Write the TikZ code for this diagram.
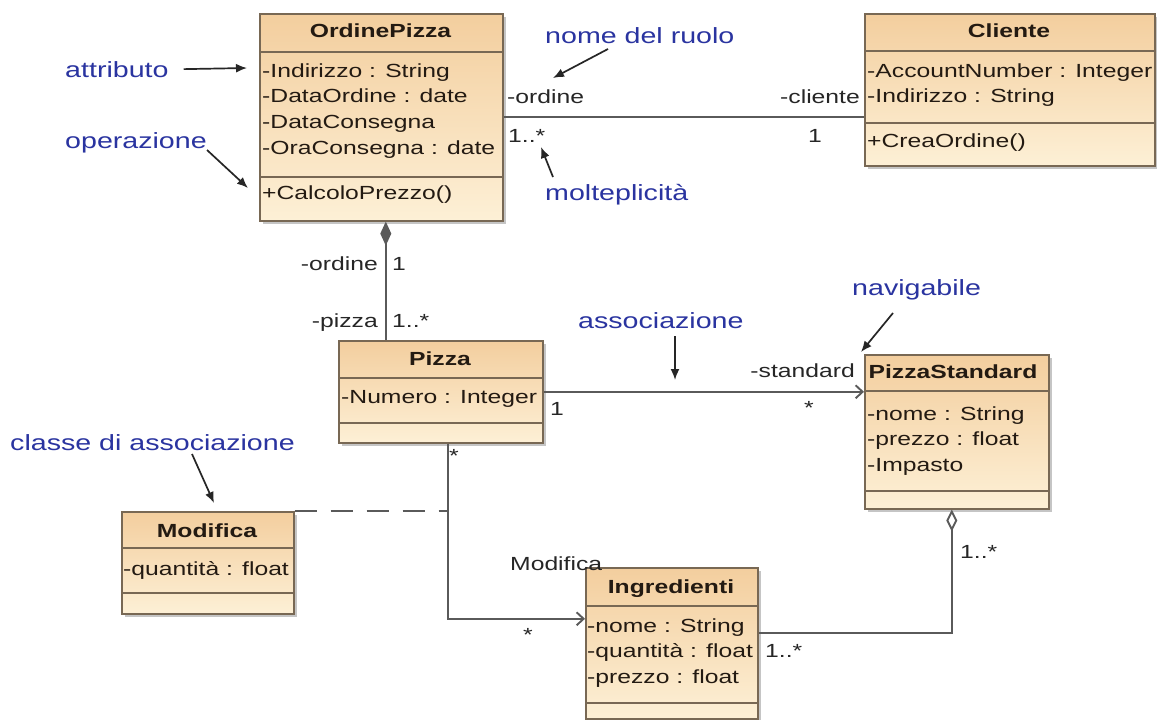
\documentclass[tikz,border=0pt]{standalone}
\usepackage{fontspec}
\setmainfont{Liberation Sans}[FakeStretch=1.3]
\usetikzlibrary{arrows.meta,shadows}
\definecolor{annblue}{RGB}{42,52,160}
\definecolor{clsborder}{RGB}{120,104,84}
\definecolor{clstop}{RGB}{243,206,158}
\definecolor{clsbot}{RGB}{253,240,214}
\definecolor{clstext}{RGB}{35,26,18}
\definecolor{linegray}{RGB}{90,90,90}
% one text line per row of a class compartment
\newcommand{\cellrows}[4]{%
  \foreach \rowtext [count=\k] in {#4} {\node[attr] (#1\k) at (#2,{#3+25.7*(\k-1)}) {\rowtext};}}
\begin{document}
\begin{tikzpicture}[x=1pt,y=-1pt,
  cls/.style={draw=clsborder, line width=1.6pt, top color=clstop, bottom color=clsbot,
    anchor=north west, inner sep=0pt,
    drop shadow={shadow xshift=3pt, shadow yshift=-3pt, fill=black!45, opacity=0.5}},
  sep/.style={draw=clsborder, line width=1.4pt},
  attr/.style={anchor=base west, inner sep=0pt, text=clstext, font=\fontsize{19}{19}\selectfont},
  head/.style={anchor=base, inner sep=0pt, text=clstext, font=\fontsize{19}{19}\selectfont\bfseries},
  lbl/.style={anchor=base west, inner sep=0pt, text=black!85, font=\fontsize{19}{19}\selectfont},
  ann/.style={anchor=base west, inner sep=0pt, text=annblue, font=\fontsize{22}{22}\selectfont},
  annarrow/.style={draw=black!85, line width=1.7pt, -{Latex[length=11pt,width=9pt]}},
  conn/.style={draw=linegray, line width=1.9pt},
  nav/.style={conn, -{Straight Barb[length=7pt,width=13pt]}},
  compo/.style={conn, {Diamond[length=24pt,width=11pt]}-},
  aggr/.style={conn, {Diamond[open,length=22pt,width=11pt,fill=white]}-},
  assocdash/.style={conn, dash pattern=on 22pt off 14pt}
]
\useasboundingbox (0,0) rectangle (1157,720);
\fill[white] (0,0) rectangle (1157,720);

% ---------- classes ----------
\node[cls, minimum width=243pt, minimum height=207pt] (op) at (259,13) {};
\draw[sep] ([yshift=-39pt]op.north west) -- ([yshift=-39pt]op.north east);
\draw[sep] ([yshift=-164pt]op.north west) -- ([yshift=-164pt]op.north east);
\node[head] (opH) at (380.5,37) {OrdinePizza};
\cellrows{opa}{262}{77}{-Indirizzo : String,-DataOrdine : date,-DataConsegna,-OraConsegna : date}
\cellrows{opo}{262}{199}{+CalcoloPrezzo()}

\node[cls, minimum width=290pt, minimum height=152pt] (cl) at (864,13) {};
\draw[sep] ([yshift=-38pt]cl.north west) -- ([yshift=-38pt]cl.north east);
\draw[sep] ([yshift=-110pt]cl.north west) -- ([yshift=-110pt]cl.north east);
\node[head] (clH) at (1009,37) {Cliente};
\cellrows{cla}{867}{77}{-AccountNumber : Integer,-Indirizzo : String}
\cellrows{clo}{867}{147}{+CreaOrdine()}

\node[cls, minimum width=204pt, minimum height=102pt] (pz) at (338,340) {};
\draw[sep] ([yshift=-38pt]pz.north west) -- ([yshift=-38pt]pz.north east);
\draw[sep] ([yshift=-83pt]pz.north west) -- ([yshift=-83pt]pz.north east);
\node[head] (pzH) at (440,365) {Pizza};
\cellrows{pza}{341}{403}{-Numero : Integer}

\node[cls, minimum width=184pt, minimum height=154pt] (ps) at (864,354) {};
\draw[sep] ([yshift=-37pt]ps.north west) -- ([yshift=-37pt]ps.north east);
\draw[sep] ([yshift=-137pt]ps.north west) -- ([yshift=-137pt]ps.north east);
\node[head] (psH) at (953,378) {PizzaStandard};
\cellrows{psa}{867}{420}{-nome : String,-prezzo : float,-Impasto}

\node[cls, minimum width=172pt, minimum height=102pt] (mod) at (121,511) {};
\draw[sep] ([yshift=-37pt]mod.north west) -- ([yshift=-37pt]mod.north east);
\draw[sep] ([yshift=-82pt]mod.north west) -- ([yshift=-82pt]mod.north east);
\node[head] (modH) at (207,537) {Modifica};
\cellrows{moda}{123}{575}{-quantità : float}

\node[cls, minimum width=172pt, minimum height=151pt] (ing) at (585,567) {};
\draw[sep] ([yshift=-39pt]ing.north west) -- ([yshift=-39pt]ing.north east);
\draw[sep] ([yshift=-136pt]ing.north west) -- ([yshift=-136pt]ing.north east);
\node[head] (ingH) at (671,593) {Ingredienti};
\cellrows{inga}{587}{632}{-nome : String,-quantità : float,-prezzo : float}

% ---------- connectors ----------
\coordinate (pzTop) at ([xshift=-55pt]pz.north);
\coordinate (pzBot) at ([xshift=7pt]pz.south);
\coordinate (psBot) at ([xshift=-5pt]ps.south);

\draw[conn] (op.east) -- (op.east -| cl.west);
\draw[compo] (op.south -| pzTop) -- (pzTop);
\draw[nav] (pz.east) -- (pz.east -| ps.west);
\draw[nav] (pzBot) |- ([yshift=24.5pt]ing.west);
\draw[assocdash] (mod.north east) -- (mod.north east -| pzBot);
\draw[aggr] (psBot) |- ([yshift=10.5pt]ing.east);

% ---------- role names and multiplicities ----------
\node[lbl] (rOrd) at (507,103) {-ordine};
\node[lbl] (mOrd) at (508,142) {1..*};
\node[lbl] (rCli) at (780,103) {-cliente};
\node[lbl] (mCli) at (808,142) {1};
\node[lbl, anchor=base east] (rOrd2) at (378,270) {-ordine};
\node[lbl] (mOrd2) at (392,270) {1};
\node[lbl, anchor=base east] (rPiz) at (378,327) {-pizza};
\node[lbl] (mPiz) at (392,327) {1..*};
\node[lbl] (mPiz2) at (550,415) {1};
\node[lbl, anchor=base east] (rStd) at (855,377) {-standard};
\node[lbl] (mStd) at (804,414) {*};
\node[lbl] (mPiz3) at (449,462) {*};
\node[lbl] (nMod) at (510,570) {Modifica};
\node[lbl] (mIng) at (523,641) {*};
\node[lbl] (mIng2) at (765,657) {1..*};
\node[lbl] (mStd2) at (960,558) {1..*};

% ---------- annotations ----------
\node[ann] (aAttr) at (65,77) {attributo};
\node[ann] (aOp) at (65,148) {operazione};
\node[ann] (aRole) at (545,43) {nome del ruolo};
\node[ann] (aMult) at (545,200) {molteplicità};
\node[ann] (aNav) at (852,295) {navigabile};
\node[ann] (aAssoc) at (578,328) {associazione};
\node[ann] (aCls) at (10,450) {classe di associazione};

\coordinate (tAttr) at (247,68);
\coordinate (sOp) at (207,150);
\coordinate (tOp) at (248,188);
\coordinate (sRole) at (608,49);
\coordinate (tRole) at (553,78);
\coordinate (sMult) at (553,177);
\coordinate (tMult) at (541,147);
\coordinate (sNav) at (893,313);
\coordinate (tNav) at (861,352);
\coordinate (sAssoc) at (675,336);
\coordinate (tAssoc) at (675,380);
\coordinate (sCls) at (192,454);
\coordinate (tCls) at (214,503);

\draw[annarrow] ([xshift=15pt]aAttr.east) -- (tAttr);
\draw[annarrow] (sOp) -- (tOp);
\draw[annarrow] (sRole) -- (tRole);
\draw[annarrow] (sMult) -- (tMult);
\draw[annarrow] (sNav) -- (tNav);
\draw[annarrow] (sAssoc) -- (tAssoc);
\draw[annarrow] (sCls) -- (tCls);
\end{tikzpicture}
\end{document}
